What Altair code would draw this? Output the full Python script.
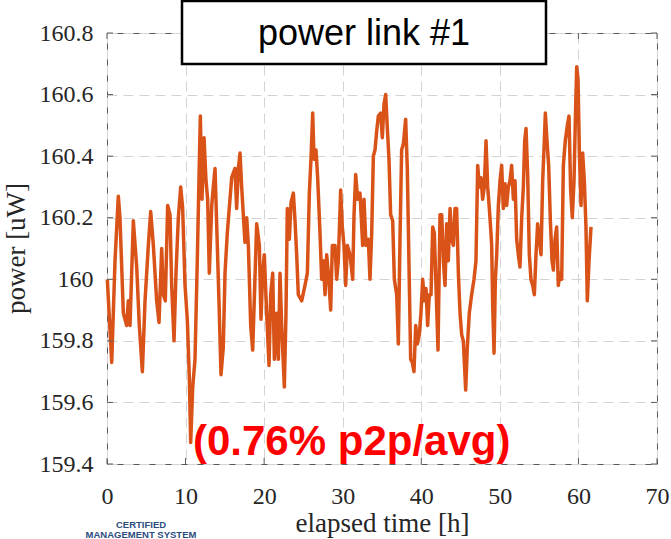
import altair as alt
import pandas as pd

# ---- data ----
hours = [
    0.04, 0.6, 1.02, 1.44, 1.65, 2.08, 2.5, 2.71, 2.93, 3.35, 3.78, 4.11, 4.5, 4.84,
    5.26, 5.56, 5.9, 6.32, 6.62, 6.96, 7.17, 7.42, 7.72, 8.02, 8.23, 8.53, 8.78, 9.08,
    9.38, 9.63, 9.93, 10.22, 10.48, 10.65, 10.91, 11.2, 11.49, 11.71, 11.88, 12.09,
    12.35, 12.6, 12.81, 13.02, 13.33, 13.53, 13.75, 14.04, 14.25, 14.51, 14.8, 15.02,
    15.31,
    15.87, 16.29, 16.5, 16.72, 16.93, 17.14, 17.35, 17.56, 17.78, 17.99, 18.29, 18.54,
    18.84, 19.05, 19.39, 19.6, 19.81, 20.02, 20.32, 20.62, 20.83, 21.09, 21.3, 21.59,
    21.81, 22.02, 22.23, 22.57, 22.78, 22.95, 23.21, 23.42, 23.72, 23.93, 24.14, 24.35,
    24.78, 25.2, 25.5, 25.75, 25.96, 26.18, 26.35, 26.6, 26.81, 27.11, 27.32, 27.53,
    27.75, 27.96, 28.17, 28.47, 28.68, 29.02, 29.23, 29.44, 29.74, 29.95, 30.16, 30.38,
    30.59, 30.93, 31.27, 31.44, 31.65, 31.9,
    32.2, 32.54, 32.71, 32.96, 33.26, 33.47, 33.69, 33.9, 34.11, 34.32, 34.53, 34.83,
    35.04, 35.26, 35.47, 35.68, 35.89, 36.1, 36.36, 36.57, 36.87, 37.08, 37.29, 37.5,
    37.72, 38.01, 38.22, 38.44, 38.65, 38.86, 39.07, 39.29, 39.5, 39.75, 39.96, 40.18,
    40.39, 40.6, 40.81, 41.02, 41.24, 41.45, 41.66, 41.87, 42.13, 42.38, 42.6, 42.81,
    43.02, 43.23, 43.44, 43.66, 43.87, 44.08, 44.29, 44.5, 44.72, 44.93, 45.14, 45.35,
    45.65, 45.86, 46.11, 46.41, 46.71, 46.96, 47.18, 47.39, 47.6, 47.81, 48.02, 48.24,
    48.45, 48.66, 48.87,
    48.96, 49.09, 49.26, 49.43, 49.6, 49.81, 50.02, 50.23, 50.44, 50.66, 50.87, 51.08,
    51.29, 51.5, 51.72, 51.93, 52.14, 52.35, 52.56, 52.78, 52.99, 53.16, 53.33, 53.54,
    53.75, 53.96, 54.18, 54.39, 54.6, 54.81, 55.03, 55.24, 55.45, 55.66, 55.79, 56.0,
    56.21, 56.43, 56.64, 56.81, 57.02, 57.23, 57.44, 57.66, 57.87, 58.08, 58.33, 58.59,
    58.8, 59.01, 59.22, 59.44, 59.61, 59.78, 59.95, 60.12, 60.33, 60.54, 60.75, 60.96,
    61.13, 61.35, 61.6,
]
power = [
    160.00, 159.73, 160.06, 160.27, 160.20, 159.89, 159.85, 159.93, 159.85, 160.19, 160.04,
    159.85, 159.70, 159.93, 160.11, 160.22, 160.11, 159.93, 159.86, 160.10, 159.95, 159.93,
    160.24, 160.21, 159.98, 159.80, 160.02, 160.20, 160.30, 160.23, 159.98, 159.87, 159.68,
    159.47, 159.65, 159.74, 160.06, 160.33, 160.53, 160.26, 160.46, 160.32, 160.26, 160.02,
    160.24, 160.30, 160.36, 160.11, 159.93, 159.69, 159.78, 160.02, 160.15,
    160.33, 160.36, 160.23, 160.36, 160.41, 160.30, 160.21, 160.12, 160.20, 160.11, 159.85,
    159.77, 160.01, 160.18, 160.11, 159.87, 160.02, 160.08, 159.89, 159.72, 159.95, 160.02,
    159.74, 159.89, 159.74, 160.02, 159.85, 159.65, 159.89, 160.23, 160.13, 160.25, 160.28,
    160.19, 160.08, 159.95, 159.93, 159.98, 160.02, 160.28, 160.39, 160.54, 160.39, 160.42,
    160.33, 160.15, 160.00, 160.06, 159.95, 160.08, 160.02, 159.90, 160.11, 160.11, 160.00,
    160.06, 160.29, 160.17, 160.11, 159.98, 160.11, 160.08, 160.00, 160.21, 160.34, 160.26,
    160.28, 160.11, 160.26, 160.11, 160.13, 160.00, 160.15, 160.40, 160.42, 160.48, 160.53,
    160.54, 160.46, 160.57, 160.60, 160.49, 160.39, 160.21, 160.19, 160.00, 159.95, 159.79,
    160.13, 160.42, 160.44, 160.52, 160.36, 160.04, 159.74, 159.73, 159.70, 159.85, 159.79,
    159.82, 159.89, 160.00, 159.93, 159.97, 159.85, 159.95, 159.95, 160.17, 160.15, 159.98,
    159.77, 160.21, 160.21, 160.06, 159.98, 160.18, 160.06, 160.23, 160.13, 160.11, 160.23,
    160.23, 160.02, 159.89, 159.82, 159.80, 159.64, 159.78, 159.89, 159.95, 160.00, 160.06,
    160.37, 160.30, 160.33, 160.26, 160.30, 160.45, 160.30, 160.23, 160.15,
    160.11, 159.91, 159.76, 160.00, 160.08, 160.24, 160.32, 160.37, 160.23, 160.31, 160.24,
    160.30, 160.32, 160.37, 160.26, 160.32, 160.13, 160.08, 160.04, 160.20, 160.30, 160.45,
    160.49, 160.34, 160.08, 160.00, 159.98, 159.95, 160.08, 160.18, 160.13, 160.08, 160.32,
    160.45, 160.54, 160.45, 160.37, 160.19, 160.06, 160.03, 160.13, 160.17, 159.98, 160.02,
    160.00, 160.37, 160.45, 160.50, 160.53, 160.29, 160.20, 160.32, 160.52, 160.69, 160.65,
    160.41, 160.24, 160.41, 160.32, 160.17, 159.93, 160.06, 160.17,
]
x_ticks = [0, 10, 20, 30, 40, 50, 60, 70]
y_ticks = [159.4, 159.6, 159.8, 160.0, 160.2, 160.4, 160.6, 160.8]
x_title = "elapsed time [h]"
y_title = "power [uW]"
title_text = "power link #1"
note_text = "(0.76% p2p/avg)"
logo_lines = ["CERTIFIED", "MANAGEMENT SYSTEM"]

df = pd.DataFrame({"t": hours, "p": power})
xt = pd.DataFrame({"t": x_ticks})
yt = pd.DataFrame({"p": y_ticks})

W, H = 550, 431
SERIF = "Liberation Serif"
SANS = "Liberation Sans"
TXT = "#262626"
FRAME = "#5a5a5a"

xscale = alt.Scale(domain=[0, 70], nice=False)
yscale = alt.Scale(domain=[159.4, 160.8], nice=False, zero=False)

xaxis = alt.Axis(
    values=x_ticks, format="d", title=x_title, grid=True,
    gridDash=[10, 6], gridColor="#d3d3d3", gridWidth=1,
    domain=False, ticks=False, labelPadding=20, labelFlush=False,
    labelFont=SERIF, labelFontSize=24, labelColor=TXT,
    titleFont=SERIF, titleFontSize=27, titleFontWeight="normal", titleColor=TXT,
    titleX=275, titleY=67, titleBaseline="alphabetic", titleAlign="center")
yaxis = alt.Axis(
    values=y_ticks, format="~g", title=y_title, grid=True,
    gridDash=[10, 6], gridColor="#d3d3d3", gridWidth=1,
    domain=False, ticks=False, labelPadding=14, labelFlush=False,
    labelFont=SERIF, labelFontSize=24, labelColor=TXT,
    titleFont=SERIF, titleFontSize=27, titleFontWeight="normal", titleColor=TXT,
    titleAngle=270, titleX=-83, titleY=215, titleBaseline="alphabetic",
    titleAlign="center")

line = alt.Chart(df).mark_line(color="#D95319", strokeWidth=3.5, strokeJoin="round").encode(
    x=alt.X("t:Q", scale=xscale, axis=xaxis),
    y=alt.Y("p:Q", scale=yscale, axis=yaxis),
)

tick_l = alt.Chart(yt).mark_rule(color=FRAME, strokeWidth=1).encode(
    y=alt.Y("p:Q", scale=yscale, axis=yaxis), x=alt.value(0), x2=alt.value(6))
tick_r = alt.Chart(yt).mark_rule(color=FRAME, strokeWidth=1).encode(
    y=alt.Y("p:Q", scale=yscale, axis=yaxis), x=alt.value(W - 6), x2=alt.value(W))
tick_b = alt.Chart(xt).mark_rule(color=FRAME, strokeWidth=1).encode(
    x=alt.X("t:Q", scale=xscale, axis=xaxis), y=alt.value(H - 6), y2=alt.value(H))
tick_t = alt.Chart(xt).mark_rule(color=FRAME, strokeWidth=1).encode(
    x=alt.X("t:Q", scale=xscale, axis=xaxis), y=alt.value(0), y2=alt.value(6))

box = alt.Chart(pd.DataFrame({"label": [title_text]})).mark_rect(
    fill="white", stroke="black", strokeWidth=2.5).encode(
    x=alt.value(75), x2=alt.value(439), y=alt.value(-32), y2=alt.value(31))
title = alt.Chart(pd.DataFrame({"label": [title_text]})).mark_text(
    font=SANS, fontSize=36, align="center", baseline="alphabetic", color="black").encode(
    x=alt.value(257), y=alt.value(12), text="label:N")

note = alt.Chart(pd.DataFrame({"label": [note_text]})).mark_text(
    font=SANS, fontSize=42, fontWeight="bold", align="left", baseline="alphabetic",
    color="#ff0000").encode(x=alt.value(86), y=alt.value(422), text="label:N")

logo1 = alt.Chart(pd.DataFrame({"label": [logo_lines[0]]})).mark_text(
    font=SANS, fontSize=9.5, fontWeight="bold", align="center", baseline="alphabetic",
    color="#2b4c7e").encode(x=alt.value(34), y=alt.value(495), text="label:N")
logo2 = alt.Chart(pd.DataFrame({"label": [logo_lines[1]]})).mark_text(
    font=SANS, fontSize=9.5, fontWeight="bold", align="center", baseline="alphabetic",
    color="#2b4c7e").encode(x=alt.value(34), y=alt.value(505), text="label:N")

chart = alt.layer(
    line, tick_l, tick_r, tick_b, tick_t, box, title, note, logo1, logo2
).properties(
    width=W, height=H,
    autosize=alt.AutoSizeParams(type="none"),
    padding={"left": 107, "top": 33, "right": 14, "bottom": 75},
    background="white",
).configure_view(stroke=FRAME, strokeWidth=1)

chart.save("out.html", embed_options={"renderer": "svg", "actions": False})
